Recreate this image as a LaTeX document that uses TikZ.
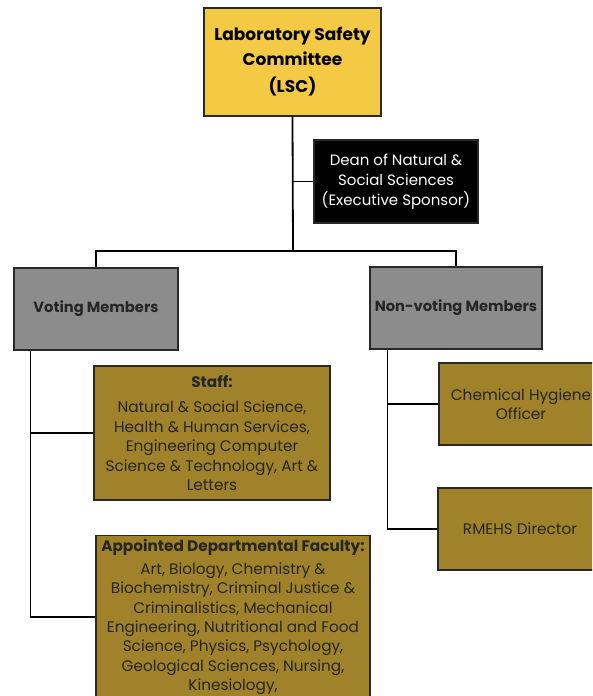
\documentclass[tikz,border=0pt]{standalone}
\usepackage{fontspec}
\setmainfont{Poppins}
\usetikzlibrary{positioning}

\definecolor{lscyellow}{RGB}{244,201,68}
\definecolor{membergray}{RGB}{140,140,140}
\definecolor{unitgold}{RGB}{160,130,42}
\definecolor{edgegray}{RGB}{40,40,40}

\tikzset{
    box/.style={draw=edgegray, line width=1.2pt, align=center, inner sep=2pt},
    topbox/.style={box, fill=lscyellow, font=\fontsize{17}{24.5}\selectfont\bfseries},
    sponsorbox/.style={box, fill=black, text=white, font=\fontsize{15}{20}\selectfont},
    groupbox/.style={box, fill=membergray, text=black!85, font=\fontsize{14.7}{18}\selectfont\bfseries},
    unitbox/.style={box, fill=unitgold, text=black!85, font=\fontsize{15.3}{19.4}\selectfont},
    link/.style={line width=1.8pt, black}
}

\begin{document}
\begin{tikzpicture}[x=1pt, y=-1pt]
    \useasboundingbox (0,0) rectangle (592,696);
    \clip (0,0) rectangle (592,696);

    % Top of the chart
    \node[topbox, minimum width=177pt, minimum height=108pt] (lsc) at (292.5,62)
        {Laboratory Safety\\Committee\\[3pt](LSC)};
    \node[sponsorbox, minimum width=164pt, minimum height=83pt] (dean) at (396,181.5)
        {Dean of Natural \&\\Social Sciences\\(Executive Sponsor)};
    \coordinate (bar) at (293,251);

    % Member groups
    \node[groupbox, minimum width=164pt, minimum height=82pt] (voting) at (96,309) {Voting Members};
    \node[groupbox, minimum width=172pt, minimum height=82pt] (nonvoting) at (456,308) {Non-voting Members};

    % Voting units
    \node[unitbox, minimum width=236pt, minimum height=134pt] (staff) at (212,433)
        {\textbf{Staff:}\\[6pt]Natural \& Social Science,\\Health \& Human Services,\\Engineering Computer\\Science \& Technology, Art \&\\Letters};
    \node[unitbox, anchor=north, minimum width=274pt, text depth=60pt, inner ysep=4pt] (faculty) at (233,535)
        {\textbf{Appointed Departmental Faculty:}\\[3pt]Art, Biology, Chemistry \&\\Biochemistry, Criminal Justice \&\\Criminalistics, Mechanical\\Engineering, Nutritional and Food\\Science, Physics, Psychology,\\Geological Sciences, Nursing,\\Kinesiology,};

    % Non-voting units
    \node[unitbox, minimum width=164pt, minimum height=82pt] (chem) at (521,404) {Chemical Hygiene\\Officer};
    \node[unitbox, minimum width=164pt, minimum height=82pt] (rmehs) at (520,529) {RMEHS Director};

    % Connectors
    \draw[link] (lsc.south) -- (bar);
    \draw[link] (lsc.south |- dean.west) -- (dean.west);
    \draw[link] (voting.north) |- (bar) -| (nonvoting.north);
    \draw[link] ([xshift=17pt]voting.south west) |- (staff.west);
    \draw[link] ([xshift=17pt]voting.south west) |- ([yshift=-82pt]faculty.north west);
    \draw[link] ([xshift=18pt]nonvoting.south west) |- (chem.west);
    \draw[link] ([xshift=18pt]nonvoting.south west) |- (rmehs.west);
\end{tikzpicture}
\end{document}
